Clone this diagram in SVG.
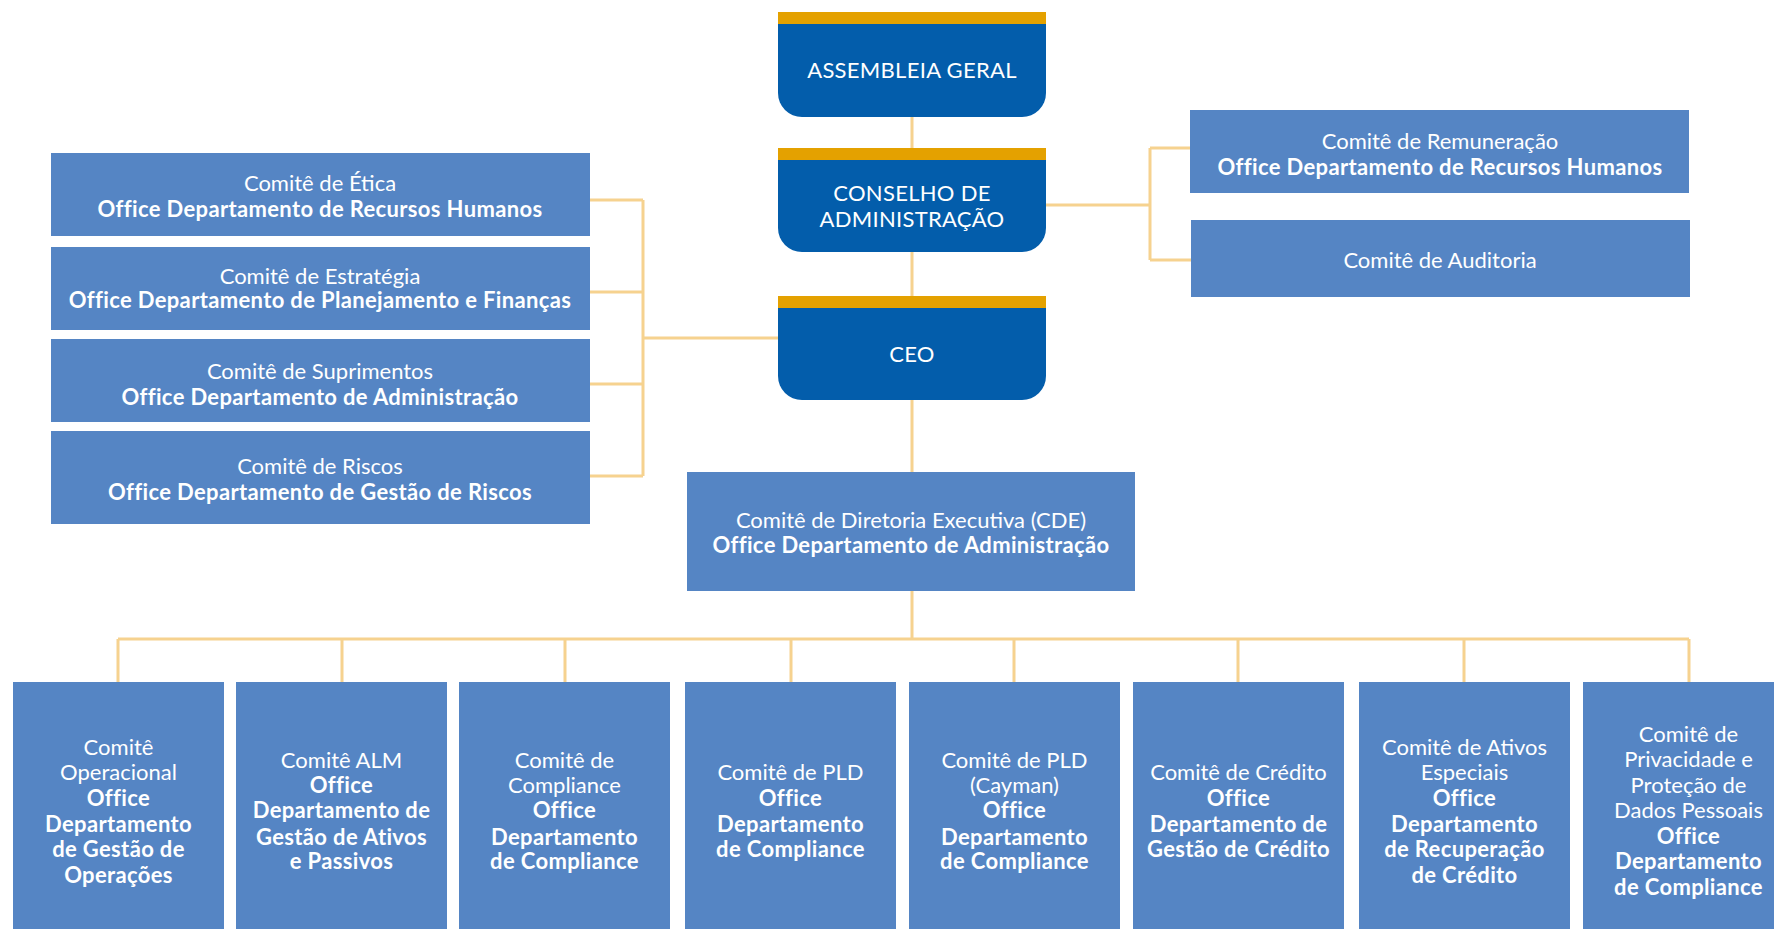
<svg xmlns="http://www.w3.org/2000/svg" width="1774" height="929" viewBox="0 0 1774 929">
<style>
.dark{fill:#035DAB}
.gold{fill:#E4A100}
.lb{fill:#5585C4}
.t{font-family:Lato,"Open Sans","Liberation Sans",sans-serif;font-size:22px;fill:#ffffff;text-anchor:middle}
.b{font-weight:bold;letter-spacing:0.35px}
.h{font-size:22px;letter-spacing:0.3px}
.c{fill:none;stroke:#F6D28F;stroke-width:3}
</style>
<rect width="1774" height="929" fill="#ffffff"/>
<g id="connectors">
<path class="c" d="M912,117V148M912,252V296M912,400V472M912,591V639"/>
<path class="c" d="M590,200H643M590,292H643M590,384H643M590,476H643M643,200V476M643,338H778"/>
<path class="c" d="M1046,205H1150M1150,148V260M1150,148H1190M1150,260H1191"/>
<path class="c" d="M118,639H1689M118,639V682M342,639V682M565,639V682M791,639V682M1014,639V682M1238,639V682M1464,639V682M1689,639V682"/>
</g>
<g id="assembleia">
<path class="dark" d="M778,24H1046V93A24,24 0 0 1 1022,117H802A24,24 0 0 1 778,93Z"/>
<rect class="gold" x="778" y="12" width="268" height="12"/>
<text class="t h" x="912" y="78">ASSEMBLEIA GERAL</text>
</g>
<g id="conselho">
<path class="dark" d="M778,160H1046V228A24,24 0 0 1 1022,252H802A24,24 0 0 1 778,228Z"/>
<rect class="gold" x="778" y="148" width="268" height="12"/>
<text class="t h" x="912" y="201">CONSELHO DE</text>
<text class="t h" x="912" y="227">ADMINISTRAÇÃO</text>
</g>
<g id="ceo">
<path class="dark" d="M778,308H1046V376A24,24 0 0 1 1022,400H802A24,24 0 0 1 778,376Z"/>
<rect class="gold" x="778" y="296" width="268" height="12"/>
<text class="t h" x="912" y="362">CEO</text>
</g>
<g id="etica">
<rect class="lb" x="51" y="153" width="539" height="83"/>
<text class="t" x="320" y="191">Comitê de Ética</text>
<text class="t b" x="320" y="217">Office Departamento de Recursos Humanos</text>
</g>
<g id="estrategia">
<rect class="lb" x="51" y="247" width="539" height="83"/>
<text class="t" x="320" y="284">Comitê de Estratégia</text>
<text class="t b" x="320" y="308">Office Departamento de Planejamento e Finanças</text>
</g>
<g id="suprimentos">
<rect class="lb" x="51" y="339" width="539" height="83"/>
<text class="t" x="320" y="379">Comitê de Suprimentos</text>
<text class="t b" x="320" y="405">Office Departamento de Administração</text>
</g>
<g id="riscos">
<rect class="lb" x="51" y="431" width="539" height="93"/>
<text class="t" x="320" y="474">Comitê de Riscos</text>
<text class="t b" x="320" y="500">Office Departamento de Gestão de Riscos</text>
</g>
<g id="remuneracao">
<rect class="lb" x="1190" y="110" width="499" height="83"/>
<text class="t" x="1440" y="149">Comitê de Remuneração</text>
<text class="t b" x="1440" y="175">Office Departamento de Recursos Humanos</text>
</g>
<g id="auditoria">
<rect class="lb" x="1191" y="220" width="499" height="77"/>
<text class="t" x="1440" y="268">Comitê de Auditoria</text>
</g>
<g id="cde">
<rect class="lb" x="687" y="472" width="448" height="119"/>
<text class="t" x="911" y="528">Comitê de Diretoria Executiva (CDE)</text>
<text class="t b" x="911" y="553">Office Departamento de Administração</text>
</g>
<g id="operacional">
<rect class="lb" x="13" y="682" width="211" height="260"/>
<text class="t" x="118.5" y="755">Comitê</text>
<text class="t" x="118.5" y="780">Operacional</text>
<text class="t b" x="118.5" y="806">Office</text>
<text class="t b" x="118.5" y="832">Departamento</text>
<text class="t b" x="118.5" y="857">de Gestão de</text>
<text class="t b" x="118.5" y="883">Operações</text>
</g>
<g id="alm">
<rect class="lb" x="236" y="682" width="211" height="260"/>
<text class="t" x="341.5" y="768">Comitê ALM</text>
<text class="t b" x="341.5" y="793">Office</text>
<text class="t b" x="341.5" y="818">Departamento de</text>
<text class="t b" x="341.5" y="845">Gestão de Ativos</text>
<text class="t b" x="341.5" y="869">e Passivos</text>
</g>
<g id="compliance">
<rect class="lb" x="459" y="682" width="211" height="260"/>
<text class="t" x="564.5" y="768">Comitê de</text>
<text class="t" x="564.5" y="793">Compliance</text>
<text class="t b" x="564.5" y="818">Office</text>
<text class="t b" x="564.5" y="845">Departamento</text>
<text class="t b" x="564.5" y="869">de Compliance</text>
</g>
<g id="pld">
<rect class="lb" x="685" y="682" width="211" height="260"/>
<text class="t" x="790.5" y="780">Comitê de PLD</text>
<text class="t b" x="790.5" y="806">Office</text>
<text class="t b" x="790.5" y="832">Departamento</text>
<text class="t b" x="790.5" y="857">de Compliance</text>
</g>
<g id="pld-cayman">
<rect class="lb" x="909" y="682" width="211" height="260"/>
<text class="t" x="1014.5" y="768">Comitê de PLD</text>
<text class="t" x="1014.5" y="793">(Cayman)</text>
<text class="t b" x="1014.5" y="818">Office</text>
<text class="t b" x="1014.5" y="845">Departamento</text>
<text class="t b" x="1014.5" y="869">de Compliance</text>
</g>
<g id="credito">
<rect class="lb" x="1133" y="682" width="211" height="260"/>
<text class="t" x="1238.5" y="780">Comitê de Crédito</text>
<text class="t b" x="1238.5" y="806">Office</text>
<text class="t b" x="1238.5" y="832">Departamento de</text>
<text class="t b" x="1238.5" y="857">Gestão de Crédito</text>
</g>
<g id="ativos-especiais">
<rect class="lb" x="1359" y="682" width="211" height="260"/>
<text class="t" x="1464.5" y="755">Comitê de Ativos</text>
<text class="t" x="1464.5" y="780">Especiais</text>
<text class="t b" x="1464.5" y="806">Office</text>
<text class="t b" x="1464.5" y="832">Departamento</text>
<text class="t b" x="1464.5" y="857">de Recuperação</text>
<text class="t b" x="1464.5" y="883">de Crédito</text>
</g>
<g id="privacidade">
<rect class="lb" x="1583" y="682" width="211" height="260"/>
<text class="t" x="1688.5" y="742">Comitê de</text>
<text class="t" x="1688.5" y="767">Privacidade e</text>
<text class="t" x="1688.5" y="793">Proteção de</text>
<text class="t" x="1688.5" y="818">Dados Pessoais</text>
<text class="t b" x="1688.5" y="844">Office</text>
<text class="t b" x="1688.5" y="869">Departamento</text>
<text class="t b" x="1688.5" y="895">de Compliance</text>
</g>
</svg>
